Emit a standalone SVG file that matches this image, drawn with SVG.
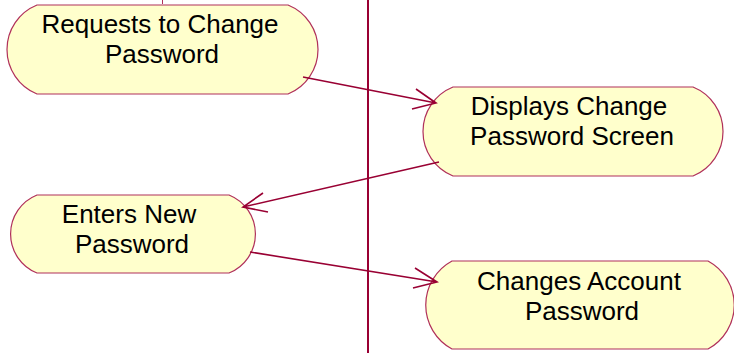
<svg xmlns="http://www.w3.org/2000/svg" width="734" height="353" viewBox="0 0 734 353">
<style>
.node{fill:#ffffcc;stroke:#b0305a;stroke-width:1.2}
.lbl{font-family:"Liberation Sans",Arial,sans-serif;font-size:26px;fill:#000;text-anchor:middle}
.conn{stroke:#990033;stroke-width:1.6;fill:none}
</style>
<rect width="734" height="353" fill="#fff"/>
<g id="swimlane">
<line x1="368" y1="0" x2="368" y2="353" stroke="#990033" stroke-width="2"/>
<line x1="162.5" y1="0" x2="162.5" y2="4" stroke="#b0305a" stroke-width="1"/>
</g>
<g id="node-requests">
<path class="node" d="M37,5 L288,5 A48,48 0 0 1 288,94 L37,94 A48,48 0 0 1 37,5 Z"/>
<text class="lbl" x="160" y="33">Requests to Change</text>
<text class="lbl" x="162" y="63">Password</text>
</g>
<g id="node-displays">
<path class="node" d="M453,87 L693,87 A48,48 0 0 1 693,176 L453,176 A48,48 0 0 1 453,87 Z"/>
<text class="lbl" x="569" y="115">Displays Change</text>
<text class="lbl" x="572" y="145">Password Screen</text>
</g>
<g id="node-enters">
<path class="node" d="M37,195 L229,195 A42,42 0 0 1 229,273 L37,273 A42,42 0 0 1 37,195 Z"/>
<text class="lbl" x="129" y="223">Enters New</text>
<text class="lbl" x="132" y="253">Password</text>
</g>
<g id="node-changes">
<path class="node" d="M452,261 L708,261 A50,50 0 0 1 708,349 L452,349 A50,50 0 0 1 452,261 Z"/>
<text class="lbl" x="579" y="290">Changes Account</text>
<text class="lbl" x="582" y="320">Password</text>
</g>
<g id="connectors">
<path class="conn" d="M303,77 L436,103 M416,89 L436,103 L412,109"/>
<path class="conn" d="M439,162 L243,207 M263,193 L243,207 L268,212"/>
<path class="conn" d="M250,252 L437,282 M415,268 L437,282 L413,288"/>
</g>
</svg>
